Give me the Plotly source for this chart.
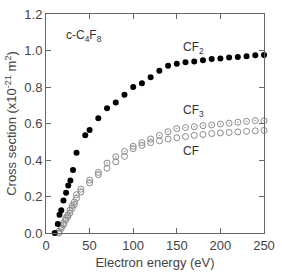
import plotly.graph_objects as go

# CF2 (filled circles)
cf2_x = [10, 13.5, 15.5, 17.5, 20, 23, 25.5, 28, 31, 35, 45, 50, 60, 70, 80, 90, 100,
         110, 120, 130, 140, 150, 160, 170, 180, 190, 200, 210, 220, 230, 240, 250]
cf2_y = [0.0, 0.05, 0.10, 0.125, 0.178, 0.22, 0.26, 0.288, 0.345, 0.44, 0.535, 0.564,
         0.629, 0.683, 0.715, 0.757, 0.80, 0.821, 0.853, 0.889, 0.917, 0.928, 0.935,
         0.94, 0.946, 0.953, 0.956, 0.962, 0.965, 0.969, 0.974, 0.976]

# CF3 and CF (same energies)
e_x = [15, 17.5, 20, 22.5, 25, 27.5, 30, 32.5, 35, 40, 50, 60, 70, 80, 90, 100, 110,
       120, 130, 140, 150, 160, 170, 180, 190, 200, 210, 220, 230, 240, 250]
cf3_y = [0.01, 0.035, 0.055, 0.08, 0.10, 0.125, 0.15, 0.17, 0.21, 0.24, 0.29, 0.332,
         0.383, 0.418, 0.447, 0.475, 0.495, 0.515, 0.535, 0.555, 0.572, 0.578, 0.582,
         0.588, 0.592, 0.597, 0.602, 0.607, 0.612, 0.616, 0.615]
cf_y = [0.0, 0.025, 0.045, 0.07, 0.09, 0.11, 0.135, 0.155, 0.19, 0.225, 0.275, 0.32,
        0.355, 0.39, 0.42, 0.462, 0.48, 0.495, 0.505, 0.515, 0.522, 0.528, 0.535, 0.54,
        0.545, 0.548, 0.551, 0.554, 0.557, 0.56, 0.562]

x_ticks = [0, 50, 100, 150, 200, 250]
y_ticks = [0.0, 0.2, 0.4, 0.6, 0.8, 1.0, 1.2]

FAM = "Liberation Sans, Arial, sans-serif"

fig = go.Figure()
fig.add_trace(go.Scatter(x=e_x, y=cf_y, mode="markers", cliponaxis=False,
                         marker=dict(symbol="circle-open", size=6, color="#8a8a8a",
                                     line=dict(width=1, color="#8a8a8a"))))
fig.add_trace(go.Scatter(x=e_x, y=cf3_y, mode="markers", cliponaxis=False,
                         marker=dict(symbol="circle-open-dot", size=6, color="#8a8a8a",
                                     line=dict(width=1, color="#8a8a8a"))))
fig.add_trace(go.Scatter(x=cf2_x, y=cf2_y, mode="markers", cliponaxis=False,
                         marker=dict(symbol="circle", size=6, color="black")))

ann_font = dict(family=FAM, size=12, color="#333")
fig.add_annotation(x=20.5, y=1.077, text="c-C<sub>4</sub>F<sub>8</sub>", showarrow=False,
                   xanchor="left", yanchor="middle", font=ann_font)
fig.add_annotation(x=155, y=1.013, text="CF<sub>2</sub>", showarrow=False,
                   xanchor="left", yanchor="middle", font=ann_font)
fig.add_annotation(x=155, y=0.667, text="CF<sub>3</sub>", showarrow=False,
                   xanchor="left", yanchor="middle", font=ann_font)
fig.add_annotation(x=155, y=0.448, text="CF", showarrow=False,
                   xanchor="left", yanchor="middle", font=ann_font)

axis_common = dict(showgrid=False, zeroline=False, showline=True, linecolor="#666",
                   linewidth=1, mirror="allticks", ticks="inside", ticklen=5,
                   tickcolor="#666", ticklabeloverflow="allow",
                   tickfont=dict(family=FAM, size=13, color="#444"))
fig.update_xaxes(range=[0, 250], tickvals=x_ticks, ticktext=[str(v) for v in x_ticks],
                 title=dict(text="Electron energy (eV)", standoff=6,
                            font=dict(family=FAM, size=13, color="#444")),
                 **axis_common)
fig.update_yaxes(range=[0, 1.2], tickvals=y_ticks, ticktext=[f"{v:.1f}" for v in y_ticks],
                 title=dict(text="Cross section (x10<sup>-21</sup> m<sup>2</sup>)", standoff=4,
                            font=dict(family=FAM, size=13, color="#444")),
                 **axis_common)
fig.update_layout(width=282, height=275, margin=dict(l=46, r=7, t=9, b=41),
                  paper_bgcolor="white", plot_bgcolor="white", showlegend=False,
                  font=dict(family=FAM, size=12, color="#333"))
fig.write_html("out.html")
